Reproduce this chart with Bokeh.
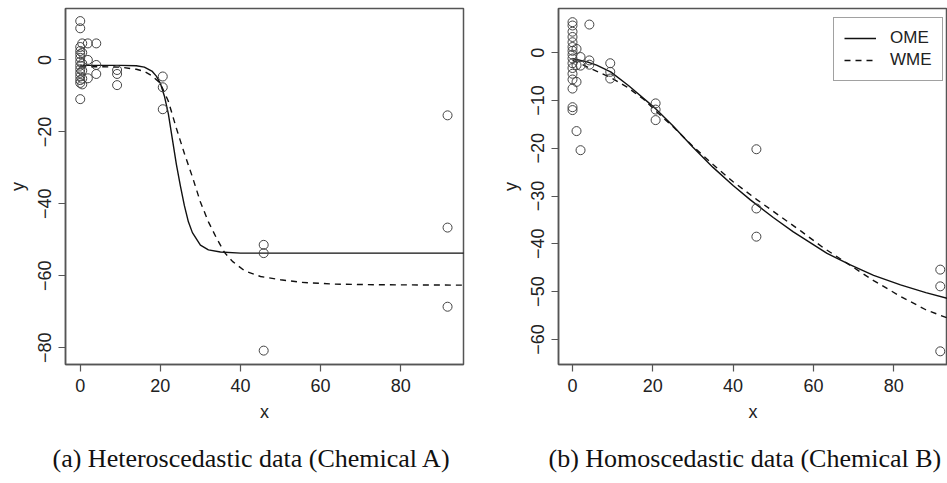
from bokeh.plotting import figure
from bokeh.models import Range1d, FixedTicker, Legend, LegendItem, Title
from bokeh.layouts import row
from bokeh.embed import file_html
from bokeh.resources import INLINE

# ---------------- Chemical A (heteroscedastic) ----------------
a_x = [0, 0, 0, 0, 0, 0, 0, 0, 0, 0, 0, 0, 0, 0,
       0.5, 0.5, 0.5, 0.5, 0.5, 0.5,
       1.9, 1.9, 1.9,
       4.0, 4.0, 4.0,
       9.2, 9.2, 9.2,
       20.6, 20.6, 20.6,
       45.8, 45.8, 45.8,
       91.7, 91.7, 91.7]
a_y = [10.8, 8.8, 3.6, 2.5, 1.6, 0.6, -0.5, -1.6, -2.6, -3.6, -4.6, -5.6, -6.4, -10.9,
       4.6, 2.0, -1.0, -3.0, -5.2, -6.8,
       4.6, 0.0, -5.1,
       4.6, -1.4, -3.9,
       -2.8, -3.9, -7.0,
       -4.6, -7.6, -13.7,
       -51.4, -53.7, -80.8,
       -15.4, -46.6, -68.6]

a_ome_x = [0, 5, 10, 14, 16, 18, 19, 20, 21, 22, 23, 24, 25, 26, 27, 28, 30, 32, 35, 40, 50, 96]
a_ome_y = [-1.5, -1.5, -1.5, -1.6, -2.0, -3.2, -4.5, -6.5, -10, -15, -22, -29, -35, -40.5, -45, -48,
           -51.5, -52.8, -53.4, -53.7, -53.7, -53.7]
a_wme_x = [0, 5, 10, 14, 16, 18, 20, 22, 24, 26, 28, 30, 32, 34, 36, 38, 41, 45, 50, 55, 63, 75, 96]
a_wme_y = [-1.9, -1.9, -2.0, -2.6, -3.2, -4.5, -6.5, -11.5, -19, -26, -32.5, -39.5, -45, -49.5,
           -53.5, -56, -58.6, -60.2, -61.1, -61.8, -62.3, -62.5, -62.6]

# ---------------- Chemical B (homoscedastic) ----------------
b_x = [0, 0, 0, 0, 0, 0, 0, 0, 0, 0, 0, 0, 0, 0, 0, 0,
       1.0, 1.0, 1.0, 1.0,
       2.0, 2.0, 2.0,
       4.2, 4.2, 4.2,
       9.4, 9.4, 9.4,
       20.7, 20.7, 20.7,
       45.8, 45.8, 45.8,
       91.6, 91.6, 91.6]
b_y = [6.4, 5.7, 4.4, 3.3, 2.2, 1.2, 0.4, -0.4, -1.2, -2.2, -3.2, -4.4, -5.6, -7.5, -11.4, -12.0,
       0.8, -2.6, -6.1, -16.4,
       -0.9, -2.7, -20.4,
       5.9, -1.6, -2.5,
       -2.2, -4.0, -5.4,
       -10.6, -11.9, -14.1,
       -20.2, -32.6, -38.5,
       -45.4, -48.9, -62.5]

b_ome_x = [0, 2, 4, 6, 9.5, 14, 20.7, 25, 30, 35, 40, 44.3, 50, 55, 63.4, 69.2, 75, 81.7, 88, 93.3, 96]
b_ome_y = [-1.2, -1.6, -2.0, -2.6, -4.0, -6.9, -11.7, -15.3, -19.8, -24, -27.8, -30.8, -34.5, -37.5,
           -42, -44.4, -46.6, -48.6, -50.2, -51.4, -51.9]
b_wme_x = [0, 2, 5, 9.5, 13.6, 17.8, 21, 25.2, 30, 35, 40, 46, 52, 57, 62.6, 69, 75, 81.7, 88, 93.3, 96]
b_wme_y = [-1.6, -2.3, -3.5, -5.2, -7.2, -9.8, -12.4, -15.6, -19.6, -23.4, -27.0, -30.8, -34.4, -37.4,
           -40.9, -44.4, -47.7, -51.0, -53.8, -55.5, -56.3]

x_ticks = [0, 20, 40, 60, 80]
a_y_ticks = [-80, -60, -40, -20, 0]
a_y_labels = ["\u221280", "\u221260", "\u221240", "\u221220", "0"]
b_y_ticks = [-60, -50, -40, -30, -20, -10, 0]
b_y_labels = ["\u221260", "\u221250", "\u221240", "\u221230", "\u221220", "\u221210", "0"]
series_names = ["OME", "WME"]
captions = ["(a) Heteroscedastic data (Chemical A)", "(b) Homoscedastic data (Chemical B)"]

FRAME = "#555555"
INK = "#222222"
SANS = "Liberation Sans"
SERIF = "Liberation Serif"


def make_panel(width, bl, br, xr, yr, yt, ylab, px, py, ox, oy, wx, wy, caption, cap_offset):
    p = figure(width=width, height=483, x_range=Range1d(*xr), y_range=Range1d(*yr),
               output_backend="svg", toolbar_location=None,
               min_border_left=bl, min_border_right=br, min_border_top=8, min_border_bottom=119)
    p.background_fill_color = "white"
    p.border_fill_color = "white"
    p.outline_line_color = FRAME
    p.outline_line_width = 1.5
    p.xgrid.visible = False
    p.ygrid.visible = False
    for ax in (p.xaxis[0], p.yaxis[0]):
        ax.axis_line_color = FRAME
        ax.axis_line_width = 1.5
        ax.major_tick_line_color = FRAME
        ax.major_tick_line_width = 1.2
        ax.major_tick_out = 7
        ax.major_tick_in = 0
        ax.minor_tick_line_color = None
        ax.major_label_text_font = SANS
        ax.major_label_text_font_size = "18px"
        ax.major_label_text_color = INK
        ax.axis_label_text_font = SANS
        ax.axis_label_text_font_size = "18px"
        ax.axis_label_text_font_style = "normal"
        ax.axis_label_text_color = INK
    p.xaxis.ticker = FixedTicker(ticks=x_ticks)
    p.yaxis.ticker = FixedTicker(ticks=yt)
    p.yaxis.major_label_overrides = {t: l for t, l in zip(yt, ylab)}
    p.yaxis.major_label_orientation = "vertical"
    p.xaxis.axis_label = "x"
    p.yaxis.axis_label = "y"
    p.xaxis.major_label_standoff = 7
    p.yaxis.major_label_standoff = 7
    p.xaxis.axis_label_standoff = 7
    p.yaxis.axis_label_standoff = 8

    r_ome = p.line(ox, oy, line_color="#111111", line_width=1.4)
    r_wme = p.line(wx, wy, line_color="#111111", line_width=1.4, line_dash="6 5")
    p.scatter(px, py, marker="circle", size=9, fill_color=None, line_color="#444444", line_width=1.0)

    spacer = Title(text=" ", text_font_size="1px", standoff=12)
    p.add_layout(spacer, "below")
    cap = Title(text=caption, align="left", text_font=SERIF, text_font_size="26px",
                text_font_style="normal", text_color="#111111", offset=cap_offset, standoff=4)
    p.add_layout(cap, "below")
    return p, r_ome, r_wme


left, _, _ = make_panel(490, 65, 27, (-3.68, 95.68), (-84.66, 14.3), a_y_ticks, a_y_labels,
                        a_x, a_y, a_ome_x, a_ome_y, a_wme_x, a_wme_y, captions[0], -13)
right, r1, r2 = make_panel(457, 68, 0, (-3.49, 93.4), (-65.26, 9.26), b_y_ticks, b_y_labels,
                           b_x, b_y, b_ome_x, b_ome_y, b_wme_x, b_wme_y, captions[1], -10)

legend = Legend(items=[LegendItem(label=series_names[0], renderers=[r1]),
                       LegendItem(label=series_names[1], renderers=[r2])],
                location=(275, 283), orientation="vertical")
legend.label_text_font = SANS
legend.label_text_font_size = "17px"
legend.label_text_color = INK
legend.label_standoff = 14
legend.label_height = 18
legend.glyph_height = 18
legend.glyph_width = 32
legend.spacing = 2
legend.padding = 10
legend.margin = 0
legend.border_line_color = "#444444"
legend.border_line_width = 1.5
legend.background_fill_color = "white"
legend.background_fill_alpha = 1.0
right.add_layout(legend)

layout = row(left, right)
open("out.html", "w").write(file_html(layout, INLINE))
